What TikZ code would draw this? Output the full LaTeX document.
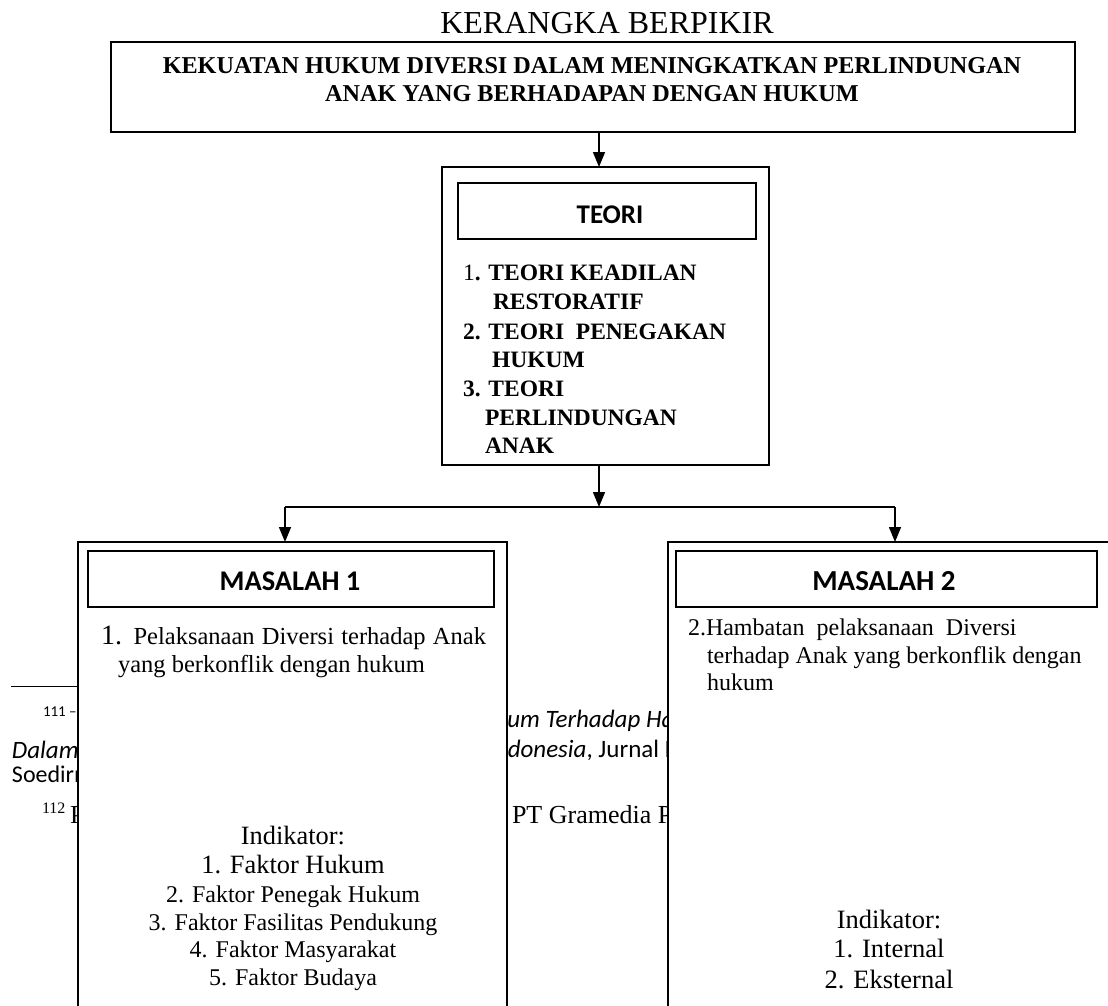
\documentclass[tikz,border=0pt]{standalone}
\usepackage{fontspec}
\setmainfont{Liberation Serif}
\newfontfamily\calib{Carlito}
\usetikzlibrary{arrows.meta}
\newcommand\fsz[1]{\fontsize{#1}{#1}\selectfont}
\begin{document}
\begin{tikzpicture}[x=1pt,y=-1pt,
  box/.style={draw, line width=2.2pt, fill=white, inner sep=0pt, outer sep=0pt, anchor=north west},
  hbox/.style={draw, line width=1.7pt, inner sep=0pt, outer sep=0pt, anchor=north west},
  conn/.style={line width=1.5pt},
  arr/.style={conn, -{Triangle[width=12pt,length=15pt]}},
  txt/.style={inner sep=0pt, outer sep=0pt},
  bt/.style={txt, anchor=base west, font=\bfseries\fsz{23.5}},
  fnote/.style={txt, anchor=base west}]
\useasboundingbox (0,0) rectangle (1108,1006);
\clip (0,0) rectangle (1108,1006);
\fill[white] (0,0) rectangle (1108,1006);

% footnote fragments behind the boxes
\draw[line width=1pt] (11,686) -- (120,686);
\node[fnote, font=\calib\fsz{15}] (f1) at (43,716) {111 –};
\node[fnote, font=\calib\itshape\fsz{25}] (f2) at (12,758) {Dalam Sistem};
\node[fnote, font=\calib\fsz{24}] (f3) at (12,782) {Soedirman};
\node[fnote, font=\fsz{16}] (f4) at (42,813) {112};
\node[fnote, font=\fsz{26}] (f5) at (70,823) {P};
\node[fnote, font=\calib\itshape\fsz{25}] (f6) at (468,727) {Hukum Terhadap Hak Anak};
\node[fnote, font=\calib\itshape\fsz{25}] (f7) at (488.6,757) {Indonesia\upshape, Jurnal Dinamika};
\node[fnote, font=\fsz{26}] (f8) at (512,823) {PT Gramedia Pustaka};

% title
\node[txt, anchor=base, font=\fsz{32}] (title) at (607,34) {KERANGKA BERPIKIR};

% top box
\node[box, minimum width=964pt, minimum height=90pt] (top) at (111,42) {};
\node[txt, anchor=base, font=\bfseries\fsz{24.2}] (t1) at (592,74) {KEKUATAN HUKUM DIVERSI DALAM MENINGKATKAN PERLINDUNGAN};
\node[txt, anchor=base, font=\bfseries\fsz{24.2}] (t2) at (592,102) {ANAK YANG BERHADAPAN DENGAN HUKUM};

% teori
\node[box, minimum width=327pt, minimum height=298pt] (teori) at (442,167) {};
\node[hbox, minimum width=298pt, minimum height=56pt] (teorihead) at (458,183) {};
\node[txt, anchor=base, font=\calib\bfseries\fsz{27}] (teorilbl) at (610,223) {TEORI};
\node[bt] (l1) at (463,280) {{\mdseries 1}. TEORI KEADILAN};
\node[bt] (l2) at (493,309) {RESTORATIF};
\node[bt] (l3) at (463,339) {2. TEORI\ \ PENEGAKAN};
\node[bt] (l4) at (492,367) {HUKUM};
\node[bt] (l5) at (463,396) {3. TEORI};
\node[bt] (l6) at (485,425) {PERLINDUNGAN};
\node[bt] (l7) at (485,453) {ANAK};

% masalah 1
\node[box, minimum width=429pt, minimum height=500pt] (m1) at (78,542) {};
\node[hbox, minimum width=406pt, minimum height=56pt] (h1) at (88,551) {};
\node[txt, anchor=base, font=\calib\bfseries\fsz{28.5}] (h1lbl) at (290,590) {MASALAH 1};
\node[txt, anchor=base west, font=\fsz{24.5}] (m1a) at (101,644) {\makebox[385pt][s]{{\fsz{28}1.} Pelaksanaan Diversi terhadap Anak}};
\node[txt, anchor=base west, font=\fsz{24.5}] (m1b) at (118,672) {yang berkonflik dengan hukum};
\node[txt, anchor=base, font=\fsz{26.4}] (i1) at (293,844) {Indikator:};
\node[txt, anchor=base, font=\fsz{26.4}] (i2) at (293,873) {1. Faktor Hukum};
\node[txt, anchor=base, font=\fsz{24}] (i3) at (293,902) {2. Faktor Penegak Hukum};
\node[txt, anchor=base, font=\fsz{24}] (i4) at (293,930) {3. Faktor Fasilitas Pendukung};
\node[txt, anchor=base, font=\fsz{24}] (i5) at (293,957) {4. Faktor Masyarakat};
\node[txt, anchor=base, font=\fsz{24}] (i6) at (293,985) {5. Faktor Budaya};

% masalah 2
\node[box, minimum width=450pt, minimum height=500pt] (m2) at (668,542) {};
\node[hbox, minimum width=421pt, minimum height=56pt] (h2) at (676,551) {};
\node[txt, anchor=base, font=\calib\bfseries\fsz{29}] (h2lbl) at (884,590) {MASALAH 2};
\node[txt, anchor=base west, font=\fsz{24}] (m2a) at (688,635) {2.Hambatan\ \ pelaksanaan\ \ Diversi};
\node[txt, anchor=base west, font=\fsz{24}] (m2b) at (707,663) {terhadap Anak yang berkonflik dengan};
\node[txt, anchor=base west, font=\fsz{24}] (m2c) at (707,690) {hukum};
\node[txt, anchor=base, font=\fsz{26.5}] (j1) at (889,928) {Indikator:};
\node[txt, anchor=base, font=\fsz{26.5}] (j2) at (889,957) {1. Internal};
\node[txt, anchor=base, font=\fsz{26.5}] (j3) at (889,988) {2. Eksternal};

% connectors
\coordinate (ax) at (599,0);
\coordinate (split) at (599,507);
\coordinate (lx) at (285,507);
\coordinate (rx) at (895,507);
\draw[arr] (top.south -| ax) -- (teori.north -| ax);
\draw[arr] (teori.south -| ax) -- (split);
\draw[conn] (lx) -- (rx);
\draw[arr] (lx) -- (m1.north -| lx);
\draw[arr] (rx) -- (m2.north -| rx);
\end{tikzpicture}
\end{document}
